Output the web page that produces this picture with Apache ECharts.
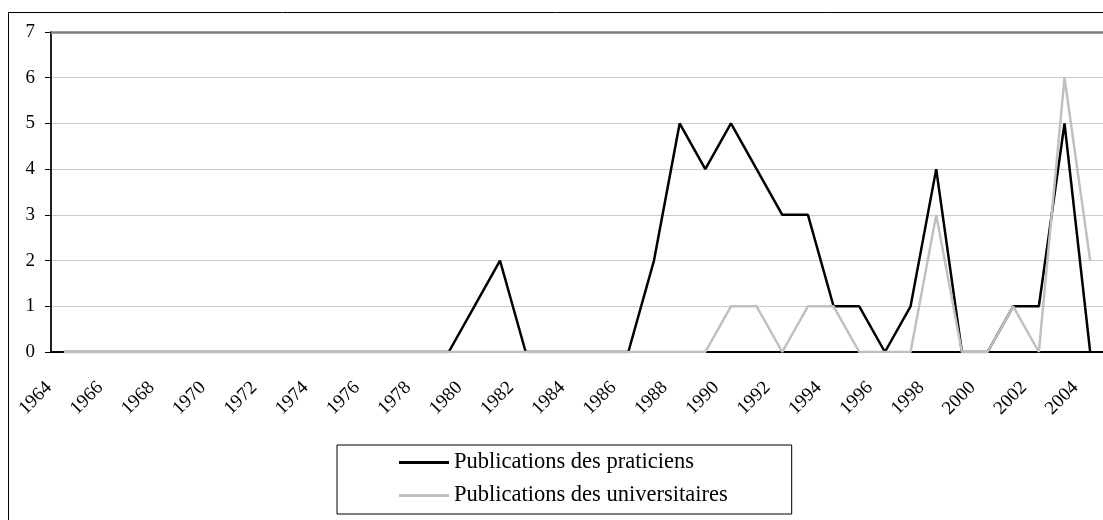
<!DOCTYPE html>
<html>
<head>
<meta charset="utf-8">
<script src="https://cdn.jsdelivr.net/npm/echarts@6/dist/echarts.min.js"></script>
<style>
  html, body { margin: 0; padding: 0; background: #fff; }
  #chart { width: 1103px; height: 520px; }
</style>
</head>
<body>
<div id="chart"></div>
<script>
const years = ['1964', '1965', '1966', '1967', '1968', '1969', '1970', '1971', '1972', '1973',
  '1974', '1975', '1976', '1977', '1978', '1979', '1980', '1981', '1982', '1983',
  '1984', '1985', '1986', '1987', '1988', '1989', '1990', '1991', '1992', '1993',
  '1994', '1995', '1996', '1997', '1998', '1999', '2000', '2001', '2002', '2003', '2004'];

const praticiens = [0, 0, 0, 0, 0, 0, 0, 0, 0, 0,
  0, 0, 0, 0, 0, 0, 1, 2, 0, 0,
  0, 0, 0, 2, 5, 4, 5, 4, 3, 3,
  1, 1, 0, 1, 4, 0, 0, 1, 1, 5, 0];

const universitaires = [0, 0, 0, 0, 0, 0, 0, 0, 0, 0,
  0, 0, 0, 0, 0, 0, 0, 0, 0, 0,
  0, 0, 0, 0, 0, 0, 1, 1, 0, 1,
  1, 0, 0, 0, 3, 0, 0, 1, 0, 6, 2];

const yTicks = [0, 1, 2, 3, 4, 5, 6, 7];

const serif = '"Liberation Serif", "Times New Roman", serif';

const chart = echarts.init(document.getElementById('chart'));

const option = {
  backgroundColor: '#fff',
  animation: false,
  graphic: [
    {
      type: 'rect',
      shape: { x: 8.5, y: 12.5, width: 1200, height: 1000 },
      style: { fill: 'none', stroke: '#000', lineWidth: 1 },
      z: -1
    }
  ],
  legend: {
    orient: 'vertical',
    left: 337,
    top: 445,
    padding: [6, 64, 7, 62],
    itemGap: 10,
    itemWidth: 50,
    itemHeight: 3,
    icon: 'rect',
    borderColor: '#000',
    borderWidth: 1,
    data: ['Publications des praticiens', 'Publications des universitaires'],
    textStyle: {
      fontFamily: serif,
      fontSize: 22.5,
      color: '#000'
    }
  },
  grid: {
    left: 51,
    top: 32,
    width: 1059,
    height: 320
  },
  xAxis: [
    {
      type: 'category',
      data: years,
      boundaryGap: true,
      axisLine: { lineStyle: { color: '#000', width: 2 } },
      axisTick: { interval: 0, length: 5, lineStyle: { color: '#000' } },
      axisLabel: {
        interval: 1,
        rotate: 45,
        margin: 18,
        padding: [0, 21, 0, 0],
        fontFamily: serif,
        fontSize: 19,
        color: '#000'
      },
      splitLine: { show: false }
    },
    {
      type: 'category',
      position: 'top',
      data: years,
      axisLine: { lineStyle: { color: '#808080', width: 2.5 } },
      axisTick: { show: false },
      axisLabel: { show: false }
    }
  ],
  yAxis: {
    type: 'value',
    min: yTicks[0],
    max: yTicks[yTicks.length - 1],
    interval: 1,
    axisLine: { show: true, lineStyle: { color: '#222', width: 2 } },
    axisTick: { show: true, length: 6, lineStyle: { color: '#000' } },
    axisLabel: {
      margin: 16,
      fontFamily: serif,
      fontSize: 19,
      color: '#000'
    },
    splitLine: { lineStyle: { color: '#cccccc', width: 1 } }
  },
  series: [
    {
      name: 'Publications des praticiens',
      type: 'line',
      data: praticiens,
      symbol: 'none',
      itemStyle: { color: '#000' },
      lineStyle: { color: '#000', width: 2.5 }
    },
    {
      name: 'Publications des universitaires',
      type: 'line',
      data: universitaires,
      symbol: 'none',
      itemStyle: { color: '#c0c0c0' },
      lineStyle: { color: '#c0c0c0', width: 2.5 }
    }
  ]
};

chart.setOption(option);

window.addEventListener('resize', () => {
  chart.resize();
});
</script>
</body>
</html>
